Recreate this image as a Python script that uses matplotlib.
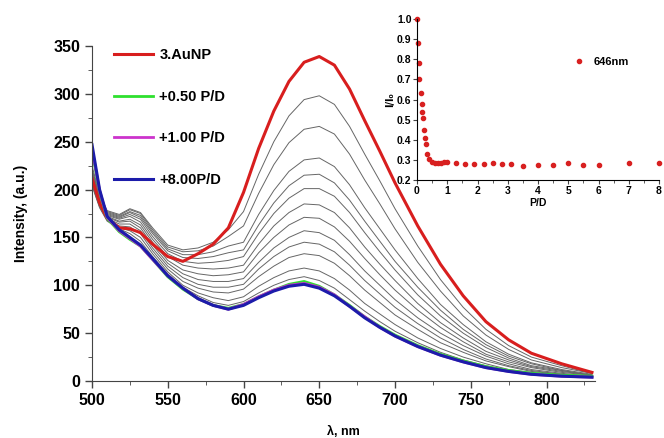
import matplotlib
matplotlib.use('Agg')
import matplotlib.pyplot as plt
from matplotlib.ticker import MultipleLocator

plt.rcParams['font.family'] = ['Liberation Sans', 'DejaVu Sans']

# wavelength grid (nm)
wl = [500, 505, 510, 518, 525, 532, 540, 550, 560, 570, 580, 590, 600, 610, 620, 630,
      640, 650, 660, 670, 680, 690, 700, 715, 730, 745, 760, 775, 790, 810, 830]

red_auNP = [212, 186, 170, 160, 159, 155, 143, 130, 125, 133, 143, 160, 197, 243, 282, 313,
            333, 339, 330, 305, 272, 240, 207, 162, 122, 89, 62, 43, 29, 18, 9]
green_050 = [240, 198, 170, 156, 148, 141, 127, 109, 96, 86, 79, 76, 80, 88, 95, 101,
             104, 99, 90, 79, 67, 57, 48, 37, 28, 21, 15, 11, 8, 6, 5]
magenta_100 = [243, 199, 171, 157, 149, 141, 127, 110, 97, 86, 79, 75, 80, 88, 95, 100,
               102, 98, 90, 78, 67, 56, 47, 36, 27, 20, 14, 10, 7, 5, 4]
blue_800 = [247, 200, 172, 158, 150, 142, 128, 110, 97, 86, 79, 75, 79, 87, 94, 99,
            101, 97, 89, 78, 66, 56, 47, 36, 27, 20, 14, 10, 7, 5, 4]

# intermediate titration steps (grey)
g1 = [225, 195, 178, 174, 180, 176, 160, 142, 137, 139, 145, 158, 177, 216, 250, 277,
      294, 298, 289, 266, 237, 209, 180, 141, 106, 77, 54, 37, 25, 16, 8]
g2 = [222, 193, 177, 173, 179, 175, 158, 140, 135, 136, 141, 151, 162, 196, 226, 249,
      263, 266, 258, 237, 210, 185, 159, 124, 94, 68, 48, 33, 22, 14, 8]
g3 = [220, 192, 176, 172, 177, 173, 156, 138, 132, 132, 135, 141, 145, 174, 199, 219,
      231, 233, 224, 205, 181, 159, 137, 107, 80, 59, 41, 28, 19, 12, 7]
g4 = [218, 190, 175, 171, 176, 171, 154, 136, 129, 128, 130, 134, 137, 163, 186, 204,
      215, 216, 207, 189, 167, 146, 125, 98, 74, 54, 38, 26, 18, 11, 6]
g5 = [215, 188, 174, 170, 174, 169, 151, 133, 125, 123, 124, 126, 130, 154, 175, 191,
      201, 201, 193, 176, 155, 135, 116, 90, 68, 50, 35, 24, 16, 11, 6]
g6 = [214, 187, 173, 169, 172, 166, 148, 130, 121, 118, 117, 118, 121, 143, 162, 176,
      185, 184, 176, 160, 140, 122, 105, 81, 61, 45, 31, 22, 15, 10, 6]
g7 = [212, 186, 172, 167, 169, 163, 145, 126, 116, 112, 110, 111, 114, 134, 150, 163,
      171, 170, 161, 146, 128, 111, 95, 74, 56, 41, 28, 20, 14, 9, 6]
g8 = [210, 185, 171, 166, 167, 160, 142, 123, 112, 106, 104, 104, 107, 124, 139, 150,
      157, 155, 147, 132, 115, 100, 85, 66, 50, 37, 26, 18, 12, 8, 5]
g9 = [208, 184, 170, 164, 164, 157, 139, 120, 108, 101, 98, 98, 101, 117, 130, 140,
      145, 143, 135, 121, 105, 91, 77, 60, 45, 33, 23, 16, 11, 7, 5]
g10 = [206, 183, 169, 162, 161, 154, 136, 117, 104, 97, 93, 92, 96, 109, 120, 129,
       133, 131, 123, 110, 95, 82, 69, 54, 40, 30, 21, 15, 10, 7, 5]
g11 = [205, 182, 168, 160, 157, 150, 133, 114, 100, 92, 87, 84, 88, 99, 108, 115,
       118, 115, 107, 95, 81, 70, 59, 45, 34, 25, 18, 12, 9, 6, 4]
g12 = [204, 181, 167, 159, 154, 146, 130, 112, 98, 89, 82, 79, 83, 92, 100, 106,
       109, 105, 97, 85, 73, 62, 52, 40, 30, 22, 16, 11, 8, 5, 4]
greys = [g1, g2, g3, g4, g5, g6, g7, g8, g9, g10, g11, g12]

# inset: I/I0 at 646 nm vs P/D
pd_ratio = [0, 0.02, 0.05, 0.08, 0.12, 0.15, 0.18, 0.2, 0.24, 0.28, 0.3, 0.34, 0.4, 0.5,
            0.6, 0.7, 0.8, 0.9, 1.0, 1.3, 1.6, 1.9, 2.2, 2.5, 2.8, 3.1, 3.5, 4.0, 4.5,
            5.0, 5.5, 6.0, 7.0, 8.0]
i_ratio = [1.0, 0.88, 0.78, 0.70, 0.63, 0.58, 0.54, 0.51, 0.45, 0.41, 0.38, 0.33, 0.305,
           0.29, 0.285, 0.283, 0.285, 0.29, 0.29, 0.285, 0.278, 0.278, 0.28, 0.283, 0.281,
           0.281, 0.272, 0.277, 0.276, 0.286, 0.275, 0.277, 0.283, 0.283]

fig = plt.figure(figsize=(6.64, 4.38), dpi=100)
ax = fig.add_axes([92/664, 1-381/438, 503/664, 335/438])

for g in greys:
    ax.plot(wl, g, color='#666666', lw=0.7)
ax.plot(wl, red_auNP, color='#d81e1e', lw=2.2, label='3.AuNP')
ax.plot(wl, green_050, color='#2ee02e', lw=2.0, label='+0.50 P/D')
ax.plot(wl, magenta_100, color='#cc33cc', lw=2.0, label='+1.00 P/D')
ax.plot(wl, blue_800, color='#1c1caa', lw=2.2, label='+8.00P/D')

ax.set_xlim(500, 832)
ax.set_ylim(0, 350)
ax.xaxis.set_major_locator(MultipleLocator(50))
ax.xaxis.set_minor_locator(MultipleLocator(25))
ax.yaxis.set_major_locator(MultipleLocator(50))
ax.yaxis.set_minor_locator(MultipleLocator(25))
ax.spines['top'].set_visible(False)
ax.spines['right'].set_visible(False)
for s in ['left', 'bottom']:
    ax.spines[s].set_color('#444444')
ax.tick_params(direction='out', length=5, width=1, color='#444444', labelsize=11.5)
ax.tick_params(which='minor', direction='out', length=3, color='#444444')
for lab in ax.get_xticklabels() + ax.get_yticklabels():
    lab.set_fontweight('bold')
ax.set_ylabel('Intensity, (a.u.)', fontsize=10, fontweight='bold', labelpad=18)
ax.set_xlabel('λ, nm', fontsize=9, fontweight='bold', labelpad=13)

ax.legend(loc='upper left', bbox_to_anchor=(22/503, 0.994), frameon=False,
          handlelength=2.7, handletextpad=0.4, labelspacing=1.9,
          borderpad=0, borderaxespad=0, prop={'weight': 'bold', 'size': 10.5})

# inset
ins = fig.add_axes([417/664, 1-180/438, 242/664, 161/438])
ins.patch.set_alpha(0)
ins.plot(pd_ratio, i_ratio, 'o', color='#d82020', ms=3, clip_on=False, label='646nm')
ins.set_xlim(0, 8)
ins.set_ylim(0.2, 1.0)
ins.xaxis.set_major_locator(MultipleLocator(1))
ins.xaxis.set_minor_locator(MultipleLocator(0.5))
ins.yaxis.set_major_locator(MultipleLocator(0.1))
ins.spines['top'].set_visible(False)
ins.spines['right'].set_visible(False)
ins.tick_params(direction='out', length=3, width=0.8, color='#444444', labelsize=7.5, pad=1)
ins.tick_params(which='minor', direction='out', length=2, color='#444444')
for lab in ins.get_xticklabels() + ins.get_yticklabels():
    lab.set_fontweight('bold')
ins.set_xlabel('P/D', fontsize=7.5, fontweight='bold', labelpad=2)
ins.set_ylabel('I/I₀', fontsize=7, fontweight='bold', labelpad=1,
               family=['DejaVu Sans'])
ins.legend(loc='center left', bbox_to_anchor=(0.6, 0.735), frameon=False,
           handletextpad=0.3, borderpad=0, prop={'weight': 'bold', 'size': 8})

fig.savefig('out.png', dpi=100)
